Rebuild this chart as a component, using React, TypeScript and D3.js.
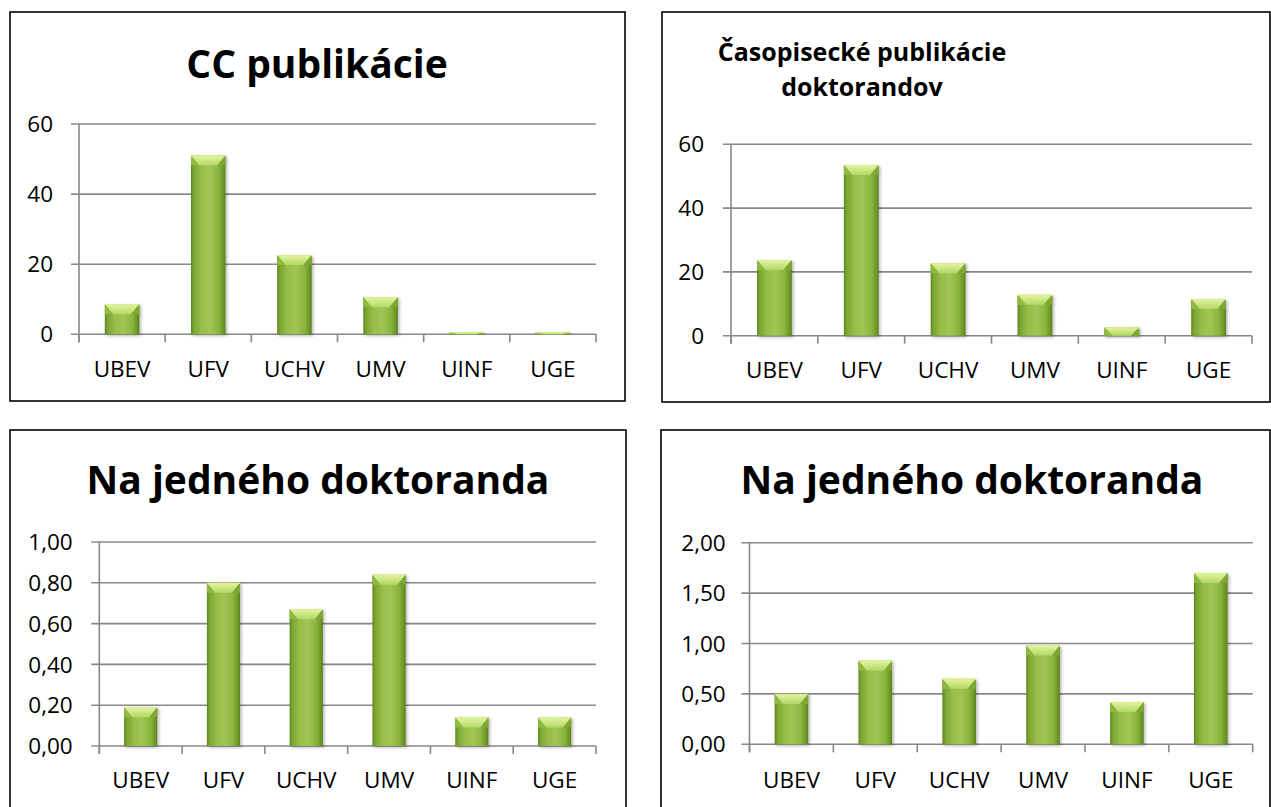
import React from "react";
import * as d3 from "d3";

const categories = ["UBEV", "UFV", "UCHV", "UMV", "UINF", "UGE"];

const ccPublikacie = [8.6, 51, 22.6, 10.6, 0.6, 0.6];
const casopisecke = [23.7, 53.5, 22.7, 12.8, 2.6, 11.5];
const naDoktoranda1 = [0.19, 0.8, 0.67, 0.84, 0.14, 0.14];
const naDoktoranda2 = [0.5, 0.83, 0.65, 0.98, 0.42, 1.7];

const ticksCount = [0, 20, 40, 60];
const ticksRatio1 = [0, 0.2, 0.4, 0.6, 0.8, 1.0];
const ticksRatio2 = [0, 0.5, 1.0, 1.5, 2.0];

const fmtInt = (v: number) => String(v);
const fmtDec = (v: number) => v.toFixed(2).replace(".", ",");

type PanelProps = {
  id: string;
  box: [number, number, number, number];
  plot: { x0: number; x1: number; yTop: number; yBottom: number };
  domain: [number, number];
  ticks: number[];
  fmt: (v: number) => string;
  values: number[];
  title: string[];
  titleX: number;
  titleY: number[];
  titleSize: number;
  yLabelRight: number;
  catBaseline: number;
};

const FONT = "'Open Sans', 'DejaVu Sans', sans-serif";
const GRID = "#888888";

function Panel(p: PanelProps) {
  const x = d3
    .scaleBand<string>()
    .domain(categories)
    .range([p.plot.x0, p.plot.x1])
    .paddingInner(0.6)
    .paddingOuter(0.3);
  const y = d3.scaleLinear().domain(p.domain).range([p.plot.yBottom, p.plot.yTop]);
  const step = (p.plot.x1 - p.plot.x0) / categories.length;
  const boundaries = d3.range(categories.length + 1).map((i) => p.plot.x0 + i * step);
  const [bx0, by0, bx1, by1] = p.box;
  const y0 = y(0);

  return (
    <g>
      <rect x={bx0} y={by0} width={bx1 - bx0} height={by1 - by0} fill="#ffffff" stroke="#000" strokeWidth={1.6} />
      {p.title.map((t, i) => (
        <text
          key={i}
          x={p.titleX}
          y={p.titleY[i]}
          textAnchor="middle"
          fontFamily={FONT}
          fontWeight={700}
          fontSize={p.titleSize}
          fill="#000"
        >
          {t}
        </text>
      ))}
      {p.ticks.map((t) => (
        <line key={"g" + t} x1={p.plot.x0 - 8} x2={p.plot.x1} y1={y(t)} y2={y(t)} stroke={GRID} strokeWidth={1.6} />
      ))}
      <line x1={p.plot.x0} x2={p.plot.x0} y1={y(p.domain[1])} y2={y0 + 8} stroke={GRID} strokeWidth={1.6} />
      {boundaries.map((bx, i) => (
        <line key={"t" + i} x1={bx} x2={bx} y1={y0} y2={y0 + 8} stroke={GRID} strokeWidth={1.6} />
      ))}
      {p.ticks.map((t) => (
        <text
          key={"l" + t}
          x={p.yLabelRight}
          y={y(t)}
          dy="0.36em"
          textAnchor="end"
          fontFamily={FONT}
          fontSize={22.5}
          fill="#000"
        >
          {p.fmt(t)}
        </text>
      ))}
      {categories.map((c, i) => {
        const v = p.values[i];
        const bx = x(c) as number;
        const bw = x.bandwidth();
        const top = y(v);
        const h = y0 - top;
        const bh = Math.min(10, h);
        const inset = bw * 0.24;
        return (
          <g key={c} filter={`url(#shadow-${p.id})`}>
            <rect x={bx} y={top} width={bw} height={h} fill="url(#barBody)" />
            <polygon
              points={`${bx},${top} ${bx + bw},${top} ${bx + bw - inset},${top + bh} ${bx + inset},${top + bh}`}
              fill="url(#barTop)"
            />
            <polygon points={`${bx},${top} ${bx + inset},${top + bh} ${bx},${top + bh}`} fill="#90b941" />
            <polygon points={`${bx + bw},${top} ${bx + bw - inset},${top + bh} ${bx + bw},${top + bh}`} fill="#7ea832" />
            <line x1={bx} x2={bx + bw} y1={top + 0.5} y2={top + 0.5} stroke="#d8f08c" strokeWidth={1} />
          </g>
        );
      })}
      {categories.map((c) => (
        <text
          key={"c" + c}
          x={(x(c) as number) + x.bandwidth() / 2}
          y={p.catBaseline}
          textAnchor="middle"
          fontFamily={FONT}
          fontSize={22.5}
          fill="#000"
        >
          {c}
        </text>
      ))}
    </g>
  );
}

export default function App() {
  return (
    <div style={{ position: "absolute", left: 0, top: 0 }}>
      <svg width={1271} height={807} style={{ display: "block", background: "#fff" }}>
        <defs>
          <linearGradient id="barBody" x1="0" x2="1" y1="0" y2="0">
            <stop offset="0" stopColor="#5c861b" />
            <stop offset="0.08" stopColor="#7ca533" />
            <stop offset="0.3" stopColor="#96be48" />
            <stop offset="0.55" stopColor="#a0c655" />
            <stop offset="0.8" stopColor="#8ab43d" />
            <stop offset="0.94" stopColor="#6c9626" />
            <stop offset="1" stopColor="#557d17" />
          </linearGradient>
          <linearGradient id="barTop" x1="0" x2="0" y1="0" y2="1">
            <stop offset="0" stopColor="#e4f5a6" />
            <stop offset="1" stopColor="#b3d764" />
          </linearGradient>
          {["p1", "p2", "p3", "p4"].map((id) => (
            <filter key={id} id={`shadow-${id}`} x="-30%" y="-30%" width="160%" height="160%">
              <feDropShadow dx="1.5" dy="1.5" stdDeviation="1.5" floodColor="#000" floodOpacity="0.3" />
            </filter>
          ))}
        </defs>
        <Panel
          id="p1"
          box={[10, 12, 625, 401]}
          plot={{ x0: 79, x1: 596, yTop: 124, yBottom: 334.3 }}
          domain={[0, 60]}
          ticks={ticksCount}
          fmt={fmtInt}
          values={ccPublikacie}
          title={["CC publikácie"]}
          titleX={317}
          titleY={[78]}
          titleSize={39}
          yLabelRight={53}
          catBaseline={377}
        />
        <Panel
          id="p2"
          box={[662, 12, 1270, 402]}
          plot={{ x0: 731, x1: 1252, yTop: 144.3, yBottom: 335.7 }}
          domain={[0, 60]}
          ticks={ticksCount}
          fmt={fmtInt}
          values={casopisecke}
          title={["Časopisecké publikácie", "doktorandov"]}
          titleX={862}
          titleY={[61, 96]}
          titleSize={25}
          yLabelRight={704}
          catBaseline={378}
        />
        <Panel
          id="p3"
          box={[10, 430, 626, 830]}
          plot={{ x0: 99.3, x1: 596, yTop: 542, yBottom: 746 }}
          domain={[0, 1]}
          ticks={ticksRatio1}
          fmt={fmtDec}
          values={naDoktoranda1}
          title={["Na jedného doktoranda"]}
          titleX={318}
          titleY={[494]}
          titleSize={39}
          yLabelRight={72.7}
          catBaseline={788}
        />
        <Panel
          id="p4"
          box={[661, 430, 1270, 830]}
          plot={{ x0: 749.5, x1: 1252.7, yTop: 542.7, yBottom: 744.3 }}
          domain={[0, 2]}
          ticks={ticksRatio2}
          fmt={fmtDec}
          values={naDoktoranda2}
          title={["Na jedného doktoranda"]}
          titleX={972}
          titleY={[494]}
          titleSize={39}
          yLabelRight={725.7}
          catBaseline={788}
        />
      </svg>
    </div>
  );
}
